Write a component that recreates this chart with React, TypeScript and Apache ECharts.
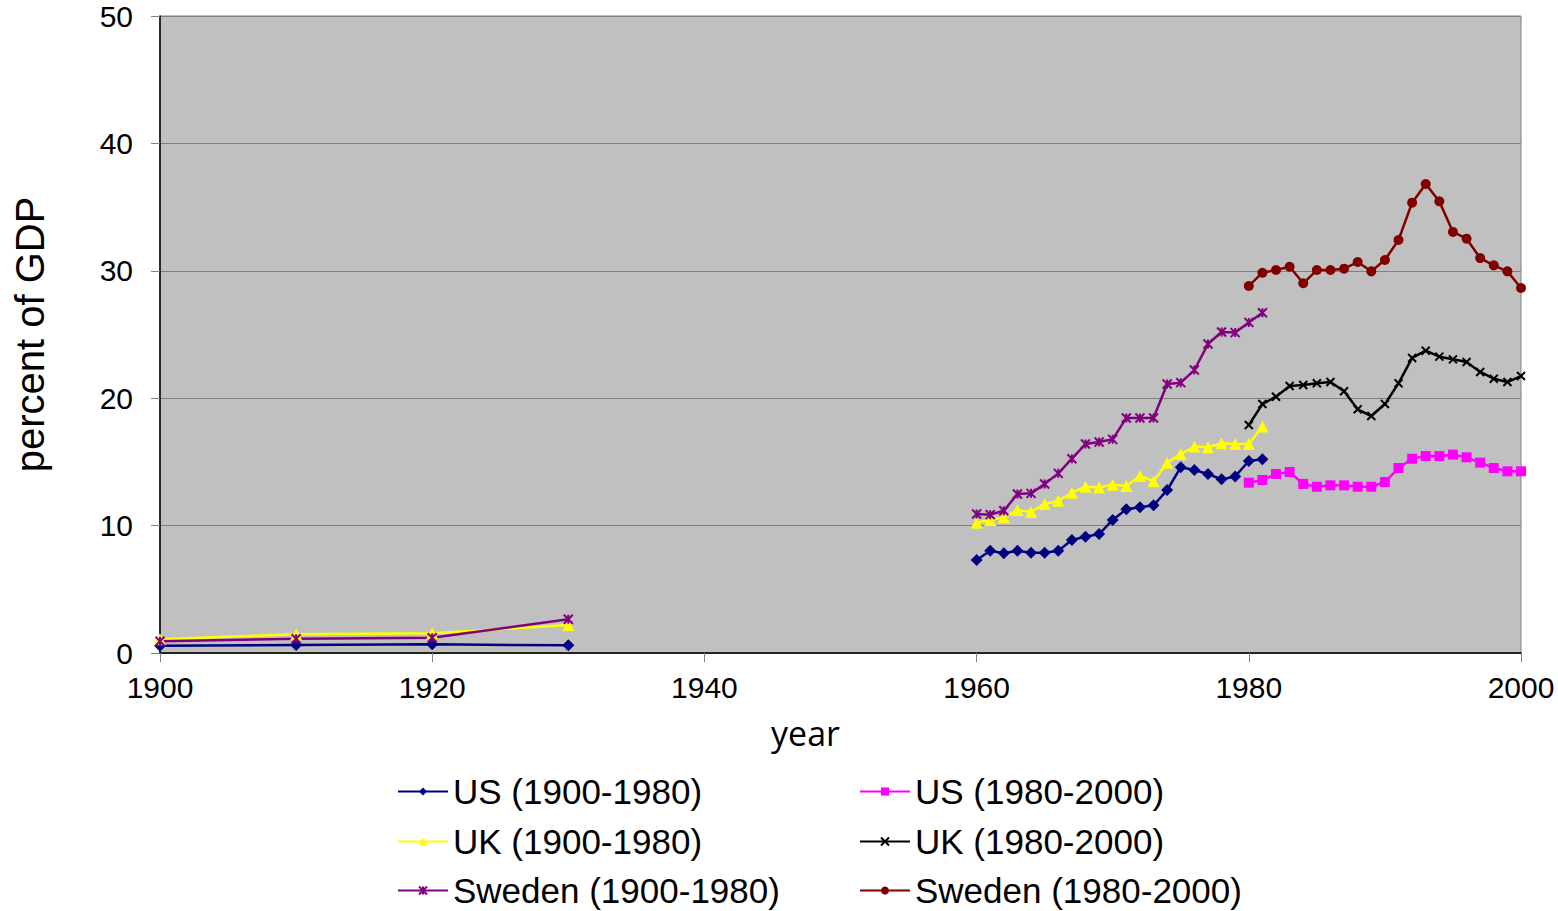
import React, { useEffect, useRef } from "react";
import * as echarts from "echarts";

// ---- data ----
const earlyYears = [1900, 1910, 1920, 1930];
const midYears = [1960, 1961, 1962, 1963, 1964, 1965, 1966, 1967, 1968, 1969, 1970, 1971, 1972, 1973, 1974, 1975, 1976, 1977, 1978, 1979, 1980, 1981];
const lateYears = [1980, 1981, 1982, 1983, 1984, 1985, 1986, 1987, 1988, 1989, 1990, 1991, 1992, 1993, 1994, 1995, 1996, 1997, 1998, 1999, 2000];

const usEarly = [0.57, 0.63, 0.68, 0.6];
const usMid = [7.3, 8.03, 7.83, 8.03, 7.87, 7.87, 8.03, 8.87, 9.13, 9.34, 10.44, 11.28, 11.44, 11.59, 12.79, 14.58, 14.36, 14.05, 13.63, 13.86, 15.07, 15.2];
const ukEarly = [1.07, 1.47, 1.55, 2.2];
const ukMid = [10.23, 10.44, 10.65, 11.22, 11.07, 11.7, 11.95, 12.58, 13.05, 13.0, 13.21, 13.1, 13.9, 13.48, 14.94, 15.62, 16.2, 16.15, 16.46, 16.4, 16.4, 17.77];
const seEarly = [0.92, 1.12, 1.2, 2.65];
const seMid = [10.91, 10.86, 11.17, 12.48, 12.53, 13.27, 14.1, 15.25, 16.4, 16.56, 16.77, 18.45, 18.45, 18.45, 21.11, 21.22, 22.21, 24.25, 25.2, 25.15, 25.95, 26.71];

const usLate = [13.37, 13.58, 14.05, 14.21, 13.27, 13.05, 13.16, 13.16, 13.05, 13.05, 13.42, 14.52, 15.25, 15.46, 15.46, 15.57, 15.36, 14.94, 14.52, 14.26, 14.26];
const ukLate = [17.9, 19.54, 20.12, 20.96, 21.04, 21.17, 21.27, 20.54, 19.13, 18.6, 19.54, 21.17, 23.16, 23.73, 23.26, 23.05, 22.84, 22.06, 21.53, 21.27, 21.74];
const seLate = [28.81, 29.85, 30.06, 30.32, 29.02, 30.06, 30.06, 30.17, 30.69, 29.96, 30.85, 32.42, 35.35, 36.81, 35.45, 33.05, 32.52, 31.0, 30.43, 29.96, 28.65];

const xTicks = { min: 1900, max: 2000, interval: 20 };
const yTicks = { min: 0, max: 50, interval: 10 };

const names = [
  "US (1900-1980)",
  "UK (1900-1980)",
  "Sweden (1900-1980)",
  "US (1980-2000)",
  "UK (1980-2000)",
  "Sweden (1980-2000)",
];

function joinEarlyMid(early: number[], mid: number[]) {
  const out: any[] = earlyYears.map((y, i) => [y, early[i]]);
  out.push([1945, null]);
  midYears.forEach((y, i) => out.push([y, mid[i]]));
  return out;
}
function late(vals: number[]) {
  return lateYears.map((y, i) => [y, vals[i]]);
}

const FONT = "'Liberation Sans', Arial, sans-serif";
const XSYM = "path://M0 0L10 10M10 0L0 10";
const ASTSYM = "path://M0 0L10 10M10 0L0 10M5 0L5 10";

export default function App() {
  const ref = useRef<HTMLDivElement>(null);
  useEffect(() => {
    if (!ref.current) return;
    const chart = echarts.init(ref.current, null, { renderer: "svg" });
    const lineSeries = (
      name: string,
      data: any[],
      color: string,
      symbol: string,
      symbolSize: number,
      stroke = false
    ) => ({
      name,
      type: "line",
      data,
      symbol,
      symbolSize,
      showSymbol: true,
      connectNulls: false,
      lineStyle: { color, width: 2.5 },
      itemStyle: stroke
        ? { color, borderColor: color, borderWidth: 2 }
        : { color, borderWidth: 0 },
      emphasis: { disabled: true },
    });
    const legendRows = [774, 824, 873];
    const legendCols = [397, 859];
    const legends = names.map((n, i) => ({
      orient: "horizontal",
      left: legendCols[Math.floor(i / 3)],
      top: legendRows[i % 3],
      itemWidth: 50,
      itemHeight: 10,
      itemGap: 0,
      padding: 0,
      textStyle: { fontFamily: FONT, fontSize: 35, color: "#000", lineHeight: 35 },
      selectedMode: false,
      data: [n],
    }));
    chart.setOption({
      animation: false,
      grid: {
        left: 160,
        right: 37,
        top: 16,
        bottom: 258,
        show: true,
        backgroundColor: "#C0C0C0",
        borderColor: "#808080",
        borderWidth: 1,
      },
      xAxis: {
        type: "value",
        ...xTicks,
        axisLine: { show: true, lineStyle: { color: "#000", width: 1.5 } },
        axisTick: { show: true, length: 9, lineStyle: { color: "#808080" } },
        axisLabel: {
          fontFamily: FONT,
          fontSize: 30,
          color: "#000",
          margin: 19,
          formatter: (v: number) => String(v),
        },
        splitLine: { show: false },
      },
      yAxis: {
        type: "value",
        ...yTicks,
        name: "percent of GDP",
        nameLocation: "middle",
        nameGap: 110,
        nameRotate: 90,
        nameTextStyle: { fontFamily: FONT, fontSize: 40, color: "#000" },
        axisLine: { show: true, lineStyle: { color: "#000", width: 1.5 } },
        axisTick: { show: true, length: 9, lineStyle: { color: "#808080" } },
        axisLabel: { fontFamily: FONT, fontSize: 30, color: "#000", margin: 27 },
        splitLine: { show: true, lineStyle: { color: "#808080", width: 1 } },
      },
      legend: legends,
      graphic: [
        {
          type: "text",
          left: 771,
          top: 716,
          style: {
            text: "year",
            fontFamily: "'Open Sans', sans-serif",
            fontSize: 34,
            fill: "#000",
          },
        },
      ],
      series: [
        lineSeries(names[0], joinEarlyMid(usEarly, usMid), "#000080", "diamond", 12),
        lineSeries(names[1], joinEarlyMid(ukEarly, ukMid), "#FFFF00", "triangle", 12),
        lineSeries(names[2], joinEarlyMid(seEarly, seMid), "#800080", ASTSYM, 9, true),
        lineSeries(names[3], late(usLate), "#FF00FF", "rect", 10),
        lineSeries(names[4], late(ukLate), "#000000", XSYM, 8, true),
        lineSeries(names[5], late(seLate), "#800000", "circle", 10),
      ],
    });
    return () => chart.dispose();
  }, []);
  return (
    <div
      ref={ref}
      style={{ position: "fixed", left: 0, top: 0, width: 1558, height: 911, background: "#fff" }}
    />
  );
}
